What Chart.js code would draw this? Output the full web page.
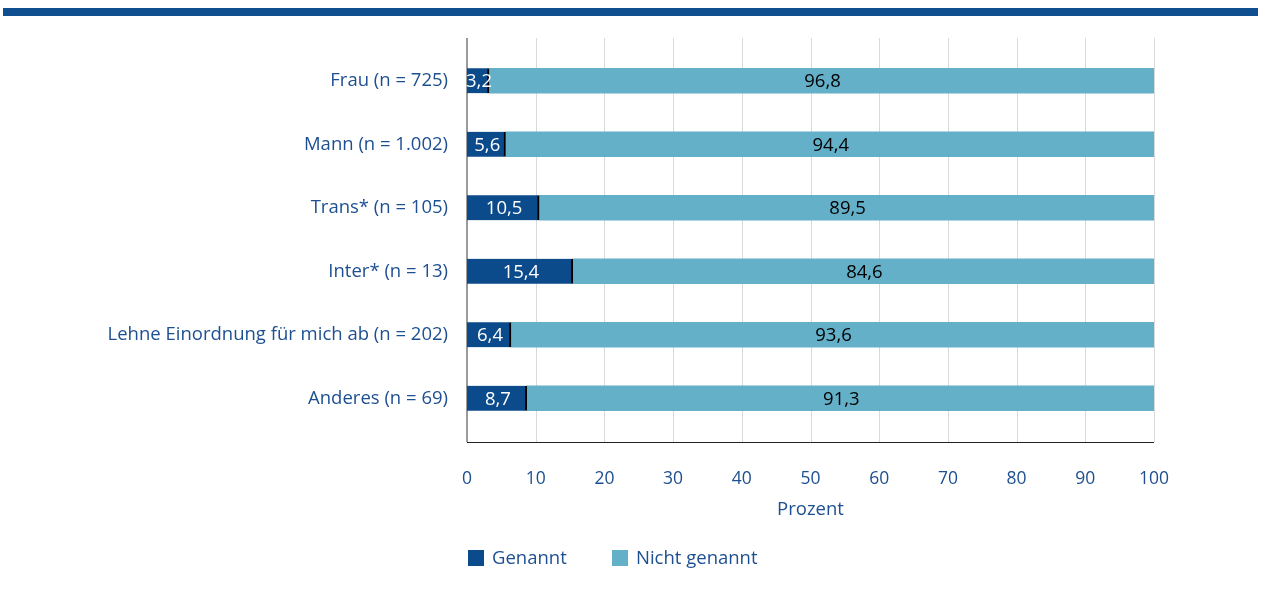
<!DOCTYPE html>
<html>
<head>
<meta charset="utf-8">
<script src="https://cdn.jsdelivr.net/npm/chart.js@4"></script>
<style>
  body { margin: 0; background: #fff; font-family: "Open Sans", sans-serif; }
  #wrap { position: relative; width: 1262px; height: 593px; }
  #topbar { position: absolute; left: 3px; top: 8px; width: 1255px; height: 8px; background: #0f4f8f; }
  #legend { position: absolute; left: 468px; top: 546px; font-size: 18.5px; color: #1d4f91; }
  .item { position: absolute; top: 0; white-space: nowrap; line-height: 22px; }
  .box { display: inline-block; width: 16px; height: 16px; vertical-align: -2px; margin-right: 8px; }
</style>
</head>
<body>
<div id="wrap">
  <div id="topbar"></div>
  <canvas id="chart" width="1262" height="593"></canvas>
  <div id="legend"></div>
</div>
<script>
// data
const categories = ['Frau (n = 725)', 'Mann (n = 1.002)', 'Trans* (n = 105)', 'Inter* (n = 13)',
    'Lehne Einordnung für mich ab (n = 202)', 'Anderes (n = 69)'];
const genannt = [3.2, 5.6, 10.5, 15.4, 6.4, 8.7];
const nichtGenannt = [96.8, 94.4, 89.5, 84.6, 93.6, 91.3];
const xTicks = [0, 10, 20, 30, 40, 50, 60, 70, 80, 90, 100];
const seriesNames = ['Genannt', 'Nicht genannt'];

const darkBlue = '#0b4a8b';
const lightBlue = '#63b0c8';
const textBlue = '#1d4f91';
const fontName = 'Open Sans';

// legend (html)
const legend = document.getElementById('legend');
[[seriesNames[0], darkBlue, 0], [seriesNames[1], lightBlue, 144]].forEach(([name, color, left]) => {
    const item = document.createElement('div');
    item.className = 'item';
    item.style.left = left + 'px';
    item.innerHTML = '<span class="box" style="background:' + color + '"></span>' + name;
    legend.appendChild(item);
});

// gridlines and axis lines that run past the category area
const gridPlugin = {
    id: 'gridPlugin',
    beforeDatasetsDraw(chart) {
        const ctx = chart.ctx;
        const x = chart.scales.x;
        const area = chart.chartArea;
        const top = area.top - 11;
        const bottom = area.bottom + 12;
        ctx.save();
        ctx.lineWidth = 1;
        ctx.strokeStyle = '#d9d9d9';
        xTicks.forEach(t => {
            if (t === 0) return;
            const px = Math.round(x.getPixelForValue(t)) + 0.5;
            ctx.beginPath();
            ctx.moveTo(px, top);
            ctx.lineTo(px, bottom);
            ctx.stroke();
        });
        // left axis
        ctx.strokeStyle = '#7a7a7a';
        ctx.lineWidth = 1.5;
        const x0 = x.getPixelForValue(0);
        ctx.beginPath();
        ctx.moveTo(x0, top);
        ctx.lineTo(x0, bottom);
        ctx.stroke();
        // bottom axis
        ctx.strokeStyle = '#222';
        ctx.lineWidth = 1;
        ctx.beginPath();
        ctx.moveTo(x0, bottom + 0.5);
        ctx.lineTo(x.getPixelForValue(100), bottom + 0.5);
        ctx.stroke();
        ctx.restore();
    }
};

// value labels inside the bars
const labelPlugin = {
    id: 'labelPlugin',
    afterDatasetsDraw(chart) {
        const ctx = chart.ctx;
        ctx.save();
        ctx.font = '18.5px "' + fontName + '"';
        ctx.textAlign = 'center';
        ctx.textBaseline = 'middle';
        chart.data.datasets.forEach((ds, i) => {
            const meta = chart.getDatasetMeta(i);
            ctx.fillStyle = i === 0 ? '#ffffff' : '#000000';
            meta.data.forEach((bar, j) => {
                const p = bar.getCenterPoint();
                ctx.fillText(ds.data[j].toFixed(1).replace('.', ','), p.x + 1, p.y + 1);
            });
        });
        ctx.restore();
    }
};

new Chart(document.getElementById('chart'), {
    type: 'bar',
    data: {
        labels: categories,
        datasets: [
            {
                label: seriesNames[0],
                data: genannt,
                backgroundColor: darkBlue,
                borderColor: '#000',
                borderWidth: { right: 2, left: 0, top: 0, bottom: 0 },
                borderSkipped: false,
                barThickness: 25
            },
            {
                label: seriesNames[1],
                data: nichtGenannt,
                backgroundColor: lightBlue,
                borderWidth: 0,
                barThickness: 25
            }
        ]
    },
    options: {
        indexAxis: 'y',
        responsive: false,
        animation: false,
        layout: { padding: { top: 49, right: 108, bottom: 72, left: 0 } },
        plugins: {
            legend: { display: false },
            tooltip: { enabled: false }
        },
        scales: {
            x: {
                stacked: true,
                min: 0,
                max: 100,
                grid: { display: false, drawTicks: false },
                border: { display: false },
                ticks: {
                    stepSize: 10,
                    padding: 39,
                    color: textBlue,
                    font: { family: fontName, size: 17.5 }
                },
                title: {
                    display: true,
                    text: 'Prozent',
                    color: textBlue,
                    font: { family: fontName, size: 18.5 },
                    padding: { top: 10, bottom: 0 }
                },
                afterFit(scale) { scale.height = 91; }
            },
            y: {
                stacked: true,
                grid: { display: false, drawTicks: false },
                border: { display: false },
                ticks: {
                    padding: 19,
                    color: textBlue,
                    font: { family: fontName, size: 18.5 }
                },
                afterFit(scale) { scale.width = 467; }
            }
        }
    },
    plugins: [gridPlugin, labelPlugin]
});
</script>
</body>
</html>
